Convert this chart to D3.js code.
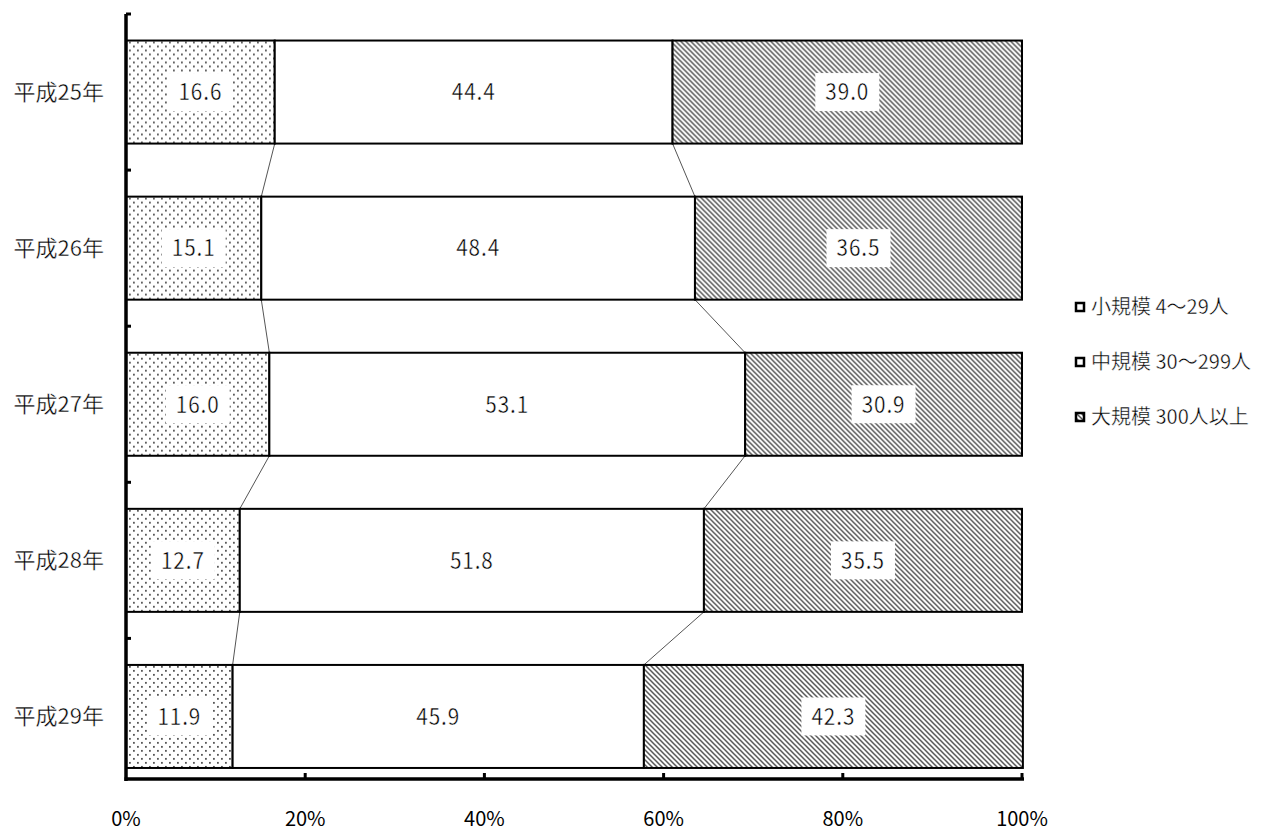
<!DOCTYPE html>
<html><head><meta charset="utf-8">
<script src="https://cdn.jsdelivr.net/npm/d3@7"></script>
<style>
html,body{margin:0;padding:0;background:#fff;}
svg{display:block;font-family:"Noto Sans CJK JP","Noto Sans",sans-serif;}
.thin{stroke:#fff;stroke-width:0.4px;}
</style></head>
<body><svg id="chart" width="1268" height="834"></svg>
<script>
// Share of establishments by size, per year (percent)
const years = ["平成25年","平成26年","平成27年","平成28年","平成29年"];
const seriesNames = ["小規模 4～29人","中規模 30～299人","大規模 300人以上"];
const small  = [16.6, 15.1, 16.0, 12.7, 11.9];
const medium = [44.4, 48.4, 53.1, 51.8, 45.9];
const large  = [39.0, 36.5, 30.9, 35.5, 42.3];
const tickLabels = ["0%","20%","40%","60%","80%","100%"];
const tickValues = [0, 20, 40, 60, 80, 100];

const svg = d3.select("#chart");
const x = d3.scaleLinear().domain([0, 100]).range([126, 1022]);
const y = d3.scaleBand().domain(years).range([14, 794.5]).paddingInner(0.34).paddingOuter(0.17);
const step = y.step();
const axisTop = 14, axisBottom = 779;

// fill patterns
const defs = svg.append("defs");
const dots = defs.append("pattern").attr("id","dots").attr("patternUnits","userSpaceOnUse")
  .attr("width",8).attr("height",8);
dots.append("rect").attr("width",8).attr("height",8).attr("fill","#fff");
dots.append("rect").attr("x",1).attr("y",1).attr("width",1.8).attr("height",1.8).attr("fill","#555");
dots.append("rect").attr("x",5).attr("y",5).attr("width",1.8).attr("height",1.8).attr("fill","#555");

const hatch = defs.append("pattern").attr("id","hatch").attr("patternUnits","userSpaceOnUse")
  .attr("width",5).attr("height",5);
hatch.append("rect").attr("width",5).attr("height",5).attr("fill","#fff");
hatch.append("path").attr("d","M-1,-1 L6,6 M-1,4 L1,6 M4,-1 L6,1")
  .attr("stroke","#555").attr("stroke-width",1.5);

const fills = ["url(#dots)", "#fff", "url(#hatch)"];

// stacked rows
const rows = years.map((yr, i) => {
  const vals = [small[i], medium[i], large[i]];
  let acc = 0;
  const segs = vals.map((v, k) => { const s = {k, v, x0: acc, x1: acc + v}; acc += v; return s; });
  return {yr, segs};
});

// connector lines between consecutive rows
const conn = svg.append("g").attr("stroke","#555").attr("stroke-width",1);
for (let i = 0; i < rows.length - 1; i++) {
  for (let k = 0; k < 2; k++) {
    conn.append("line")
      .attr("x1", x(rows[i].segs[k].x1)).attr("y1", y(rows[i].yr) + y.bandwidth())
      .attr("x2", x(rows[i+1].segs[k].x1)).attr("y2", y(rows[i+1].yr));
  }
}

const rowG = svg.append("g").selectAll("g").data(rows).join("g")
  .attr("transform", d => `translate(0,${y(d.yr)})`);

rowG.selectAll("rect.seg").data(d => d.segs).join("rect").attr("class","seg")
  .attr("x", s => x(s.x0)).attr("y", 0)
  .attr("width", s => x(s.x1) - x(s.x0)).attr("height", y.bandwidth())
  .attr("fill", s => fills[s.k]).attr("stroke","#000").attr("stroke-width",2);

// value labels on white boxes
const lab = rowG.selectAll("g.lab").data(d => d.segs).join("g").attr("class","lab")
  .attr("transform", s => `translate(${(x(s.x0)+x(s.x1))/2},${y.bandwidth()/2})`);
lab.append("rect").attr("x",-32).attr("y",-19).attr("width",64).attr("height",38).attr("fill","#fff");
lab.append("text").attr("class","thin").attr("text-anchor","middle").attr("dy","0.36em")
  .attr("font-size",23).attr("letter-spacing","1px").attr("fill","#000")
  .attr("transform","scale(0.9,1)").text(s => s.v.toFixed(1));

// category labels
svg.append("g").selectAll("text").data(years).join("text").attr("class","thin")
  .attr("x",104).attr("y", d => y(d) + y.bandwidth()/2).attr("dy","0.36em")
  .attr("text-anchor","end").attr("font-size",22).attr("fill","#000").text(d => d);

// y axis line with inner ticks at band boundaries
svg.append("line").attr("x1",126).attr("x2",126).attr("y1",axisTop).attr("y2",axisBottom+2)
  .attr("stroke","#000").attr("stroke-width",3.5);
const yTicks = [axisTop].concat(d3.range(1, years.length).map(k => 14 + step * k));
svg.append("g").selectAll("line").data(yTicks).join("line")
  .attr("x1",126).attr("x2",131).attr("y1",d=>d).attr("y2",d=>d)
  .attr("stroke","#000").attr("stroke-width",3);

// x axis line, upward ticks, labels
svg.append("line").attr("x1",124.5).attr("x2",1024).attr("y1",axisBottom).attr("y2",axisBottom)
  .attr("stroke","#000").attr("stroke-width",3.5);
svg.append("g").selectAll("line").data(tickValues.slice(1)).join("line")
  .attr("x1",d=>x(d)).attr("x2",d=>x(d)).attr("y1",axisBottom).attr("y2",axisBottom-6)
  .attr("stroke","#000").attr("stroke-width",3);
svg.append("g").selectAll("text").data(tickValues).join("text")
  .attr("x",d=>x(d)).attr("y",819).attr("dy","0.36em").attr("text-anchor","middle")
  .attr("font-size",20).attr("fill","#000").text((d,i)=>tickLabels[i]);

// legend
const legY = [307, 362, 417];
const leg = svg.append("g").selectAll("g").data(seriesNames).join("g")
  .attr("transform",(d,i)=>`translate(1075,${legY[i]})`);
leg.append("rect").attr("x",1).attr("y",-4).attr("width",8).attr("height",8)
  .attr("fill",(d,i)=> i===2 ? "url(#hatch)" : "#fff").attr("stroke","#000").attr("stroke-width",2.5);
leg.append("text").attr("class","thin").attr("x",16).attr("dy","0.36em")
  .attr("font-size",20).attr("fill","#000").text(d=>d);
</script>
</body></html>
